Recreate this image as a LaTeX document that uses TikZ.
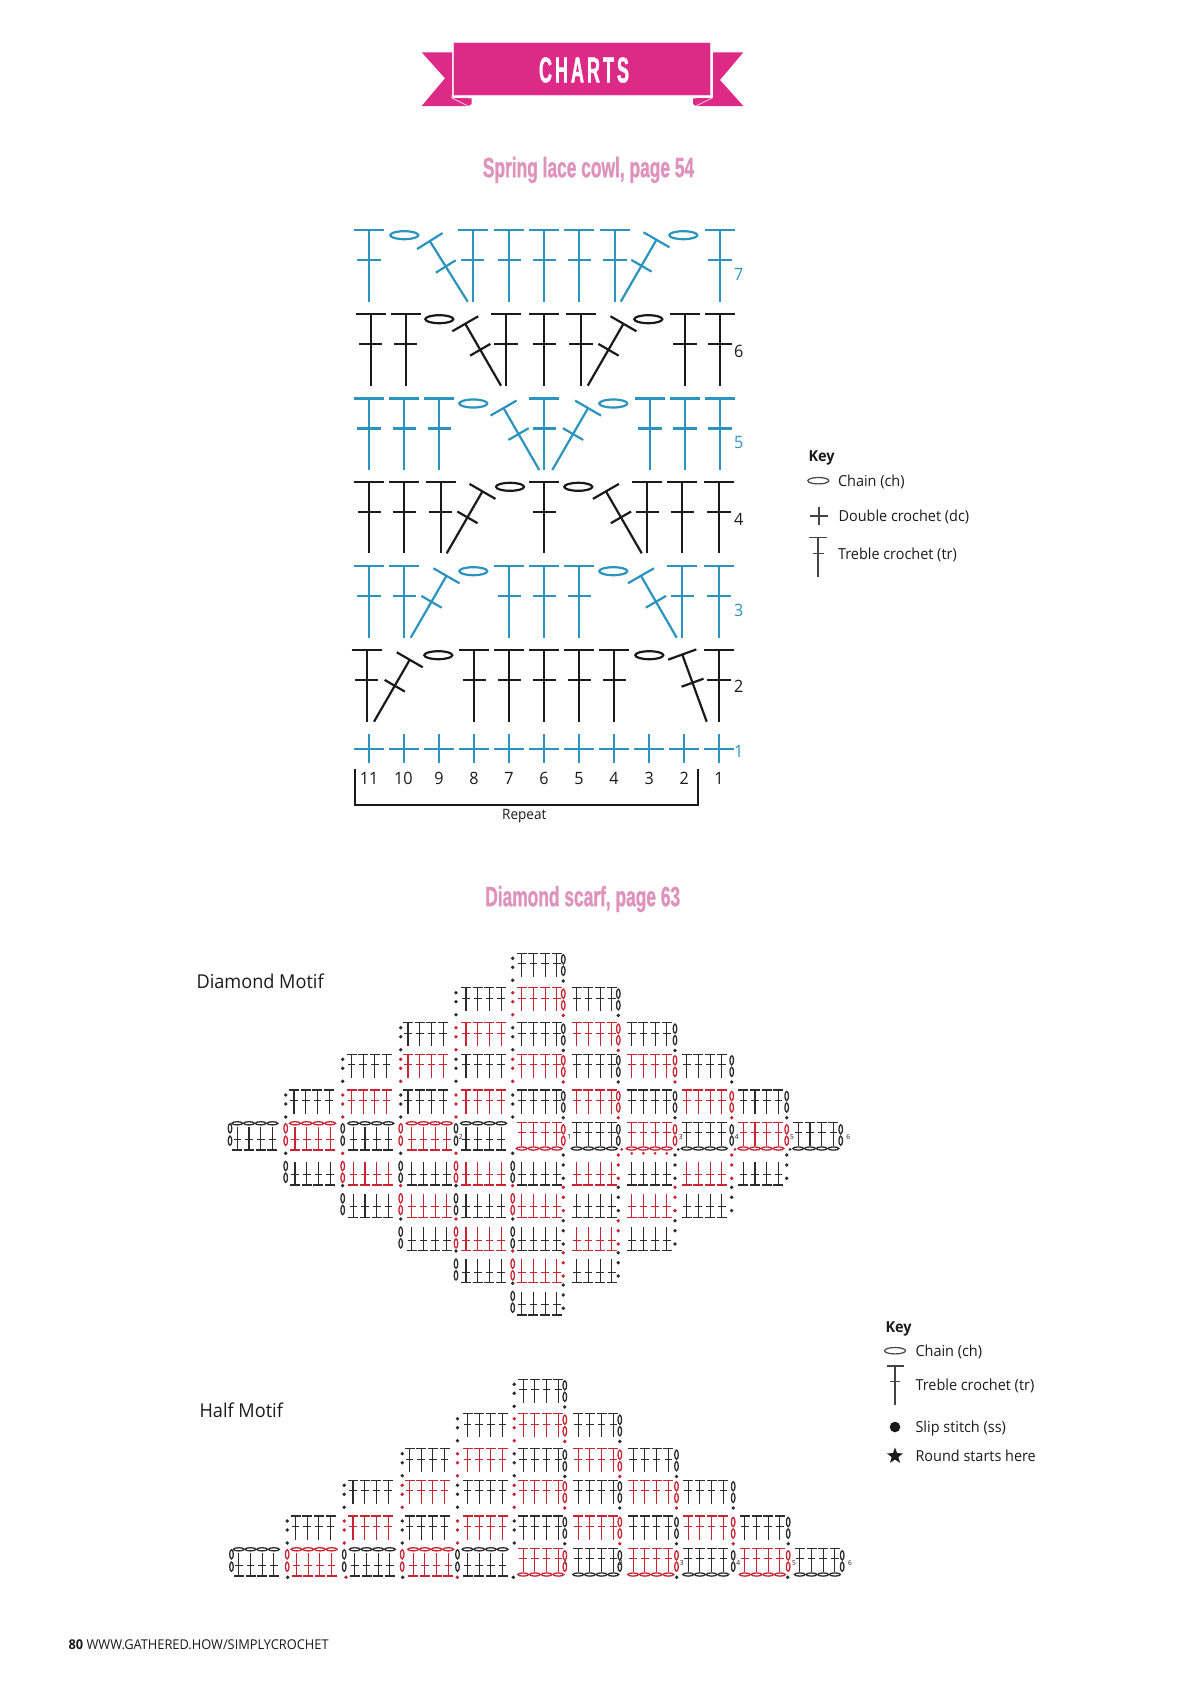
\documentclass[tikz,border=0pt]{standalone}
\usepackage{fontspec}
\usetikzlibrary{shapes.geometric}
\setmainfont[FakeStretch=0.95]{Open Sans}
\newfontfamily\headfont[FakeStretch=0.62,FakeBold=1]{Liberation Sans}
\newfontfamily\bannerfont[FakeStretch=0.5,FakeBold=1]{Liberation Sans}
\definecolor{cpink}{HTML}{DE2A87}
\definecolor{cpale}{HTML}{F8CDE2}
\definecolor{chead}{HTML}{DF93BC}
\definecolor{cblue}{HTML}{2A94BF}
\definecolor{cblack}{HTML}{1A1A1A}
\definecolor{cdark}{HTML}{2C2C2C}
\definecolor{cred}{HTML}{C82434}
\definecolor{cgrey}{HTML}{444444}
\tikzset{
  chartline/.style={line width=2.2pt},
  miniline/.style={line width=1.1pt},
  headlabel/.style={font=\fontsize{28}{32}\headfont\bfseries, text=chead},
  numlabel/.style={font=\fontsize{17}{20}\selectfont},
  keylabel/.style={font=\fontsize{15.2}{18}\selectfont, anchor=west, text=cblack},
  motiflabel/.style={font=\fontsize{19.1}{24}\selectfont, anchor=west, text=cblack},
  roundlabel/.style={font=\fontsize{7}{8}\selectfont, text=cblack},
  pics/trmark/.style={code={
    \draw (0,0) -- (0,-71.5);
    \draw (-15,-71.5) -- (15,-71.5);
    \draw (-11.7,-41.5) -- (11.7,-41.5);
  }},
}
% first stitch of every block, and the side columns of dots and ovals
\def\firstx{{237.3,295,353.3,411.7,466,521.7,576.7,631.7,686.7,743.3,798.3}}
\def\upperx{{237.3,294,351.5,408,466,521.7,576.7,631.7,686.7,743.3,798.3}}
\def\leftx{{230,285.7,342.7,400.7,456,512.7,0,0,0,0,0}}
\def\rightx{{0,0,0,0,0,563.3,618.3,675,731.7,786.7,840.7}}
\newcommand{\minitr}[3]{\draw[miniline,cur] (#1-5,#2) -- (#1+5,#2) (#1,#2) -- (#1,#2+#3*23.5) (#1-3.8,#2+#3*10.5) -- (#1+3.8,#2+#3*10.5);}
\newcommand{\minidot}[2]{\fill[cur] (#1,#2) circle [radius=1.9];}
\newcommand{\minioval}[2]{\draw[line width=1.3pt,cur] (#1,#2) ellipse [x radius=1.8, y radius=4.6];}
\newcommand{\minichain}[2]{\draw[line width=1.3pt,cur] (#1,#2) ellipse [x radius=5.4, y radius=1.6];}
\newcommand{\setcur}[1]{\pgfmathtruncatemacro\colsum{#1}\ifodd\colsum\colorlet{cur}{cred}\else\colorlet{cur}{cdark}\fi}
\newcommand{\motifupper}{
  \foreach \k/\rowy in {1/1090,2/1054.3,3/1022.7,4/987.7,5/953.3}{
    \pgfmathtruncatemacro\lastb{10-\k}
    \foreach \blk in {\k,...,\lastb}{
      \setcur{\blk+\k}
      \pgfmathsetmacro\bx{\upperx[\blk]}
      \pgfmathsetmacro\lx{\leftx[\blk]}
      \pgfmathsetmacro\rx{\rightx[\blk]}
      \foreach \st in {0,1,2,3}{\minitr{\bx+\st*11.7}{\rowy}{1}}
      \ifnum\blk<6
        \minidot{\lx}{\rowy+5}\minidot{\lx}{\rowy+14}\minidot{\lx}{\rowy+27}
      \fi
      \ifnum\blk>4
        \minioval{\rx}{\rowy+6}\minioval{\rx}{\rowy+17.5}\minidot{\rx}{\rowy+27.7}
      \fi
    }
  }
}
\newcommand{\motifmiddle}{
  \foreach \blk in {0,...,10}{
    \setcur{\blk}
    \pgfmathsetmacro\bx{\firstx[\blk]}
    \pgfmathsetmacro\lx{\leftx[\blk]}
    \pgfmathsetmacro\rx{\rightx[\blk]}
    \ifnum\blk<5
      \foreach \st in {0,1,2,3}{\minitr{\bx+\st*11.7}{1150}{-1}\minichain{\bx+\st*11.7}{1123.3}}
      \minioval{\lx}{1128.3}\minioval{\lx}{1140.7}
    \else
      \foreach \st in {0,1,2,3}{\minitr{\bx+\st*11.7}{1122.3}{1}\minichain{\bx+\st*11.7}{1148.5}}
      \minioval{\rx}{1129.3}\minioval{\rx}{1140.7}
    \fi
  }
}
\newcommand{\motiflower}{
  \foreach \k/\rowy in {1/1185,2/1217.3,3/1250.7,4/1282.7,5/1315}{
    \pgfmathtruncatemacro\lastb{10-\k}
    \foreach \blk in {\k,...,\lastb}{
      \setcur{\blk+\k}
      \pgfmathsetmacro\bx{\firstx[\blk]}
      \pgfmathsetmacro\lx{\leftx[\blk]}
      \pgfmathsetmacro\rx{\rightx[\blk]}
      \foreach \st in {0,1,2,3}{\minitr{\bx+\st*11.7}{\rowy}{-1}}
      \ifnum\blk<6
        \minidot{\lx}{\rowy-31.7}\minioval{\lx}{\rowy-19}\minioval{\lx}{\rowy-7.3}
      \fi
      \ifnum\blk>4
        \minidot{\rx}{\rowy-30}\minidot{\rx}{\rowy-20}\minidot{\rx}{\rowy-6.7}
      \fi
    }
  }
}
\begin{document}
\begin{tikzpicture}[x=1pt,y=-1pt]
\useasboundingbox (0,0) rectangle (1200,1697);
%banner
\fill[cpink] (421.7,52.3) -- (452,52.3) -- (452,106) -- (421.7,106) -- (445,78.3) -- cycle;
\fill[cpink] (743.3,52.3) -- (713,52.3) -- (713,106) -- (743.3,106) -- (720,80) -- cycle;
\fill[cpink] (452,98) -- (471.7,98.3) -- (471.7,104) -- (468,106) -- (452,106) -- cycle;
\fill[cpink] (713,98) -- (693,98.3) -- (693,104) -- (696,106) -- (713,106) -- cycle;
\draw[cpale,line width=.8pt] (452,95) -- (452,98) -- (468,106);
\draw[cpale,line width=.8pt] (712,95) -- (712,98) -- (696,106);
\draw[cpale,line width=.8pt,fill=cpink] (453.3,42.7) rectangle (710,95.7);
\node[font=\fontsize{36}{40}\bannerfont\bfseries, text=white] (charts) at (584,70) {C\kern3pt H\kern3pt A\kern3pt R\kern3pt T\kern3pt S};
\node[headlabel] (cowl) at (588.5,170) {Spring lace cowl, page 54};
\node[headlabel] (scarf) at (582.7,899) {Diamond scarf, page 63};
%lace chart
\foreach \rowy/\rowcol/\trx/\chx/\lean in {
  301.7/cblue/{369,472.7,509.3,544.3,579.3,615,720}/{404.3,683.3}/{467.7/32,620.7/-30},
  385.7/cblack/{370.7,405.7,506,544.3,581,685,720}/{439.3,648.3}/{501/30,587.7/-30},
  470/cblue/{369,404.3,439.3,544.3,650,685,720}/{473.3,613.3}/{539.3/30,552.3/-30},
  553.3/cblack/{369.3,404.3,440.7,544.3,647.3,682.3,719}/{510,578.3}/{446.7/-30,641.7/30},
  637.7/cblue/{369,404.3,509.3,544.3,579.3,682.3,719}/{473.3,613.3}/{410.7/-30,676.7/30},
  721.7/cblack/{366.7,474.3,509.3,544.3,579.3,614.3,719}/{438.3,649.3}/{374/-30,706.7/20}}{
  \begin{scope}[chartline,\rowcol]
  \foreach \x in \trx {\pic at (\x,\rowy) {trmark};}
  \foreach \x in \chx {\draw (\x,\rowy-66.5) ellipse [x radius=14, y radius=4];}
  \foreach \x/\tilt in \lean {\pic[rotate=\tilt] at (\x,\rowy) {trmark};}
  \end{scope}
}
\foreach \x in {369,404,439,474,509,544,579,614,649,684,719}
  \draw[chartline,cblue] (\x-15,749.3) -- (\x+15,749.3) (\x,734) -- (\x,763.3);
\foreach \x/\n in {369/11,403.3/10,439/9,474/8,509/7,544/6,579/5,614/4,649.3/3,684.3/2,719/1}
  \node[numlabel,text=cblack] (st\n) at (\x,778.3) {\n};
\foreach \y/\n/\rowcol in {274/7/cblue,351.7/6/cblack,442.7/5/cblue,519/4/cblack,610/3/cblue,686.7/2/cblack,751/1/cblue}
  \node[numlabel,text=\rowcol] (row\n) at (738.7,\y) {\n};
\draw[line width=2pt,cblack] (355,769.3) |- (698.3,805) -- (698.3,769.3);
\node[font=\fontsize{14.3}{16}\selectfont,text=cblack] (repeat) at (524.3,816) {Repeat};
%first key
\node[keylabel] (keya) at (805,458) {\textbf{Key}};
\draw[cgrey,line width=1.2pt] (818.3,480.7) ellipse [x radius=10.5, y radius=3.2];
\node[keylabel] (chaina) at (834.5,482) {Chain (ch)};
\draw[cgrey,line width=1.2pt] (809.5,516) -- (828,516) (819,507) -- (819,525);
\node[keylabel] (dca) at (835,517) {Double crochet (dc)};
\draw[cgrey,line width=1.2pt] (809,537.3) -- (826.7,537.3) (818,537.3) -- (818,576.7) (812.5,553.3) -- (823.5,553.3);
\node[keylabel] (tra) at (834.5,555) {Treble crochet (tr)};
%diamond motif
\motifupper
\motifmiddle
\motiflower
\foreach \x in {631.7,643.4,655.1,666.8} \fill[cred] (\x,1153.3) circle [radius=1.5];
\foreach \x/\rowcol in {621.7/cred,678.3/cdark,735/cred,790/cdark} \fill[\rowcol] (\x,1149.3) circle [radius=1.5];
\foreach \x/\n in {569.3/1,460.7/2,680.7/3,736.7/4,792/5,848.3/6}
  \node[roundlabel] (dm\n) at (\x,1137.3) {\n};
\node[motiflabel] (diamond) at (193,981.5) {Diamond Motif};
%half motif
\begin{scope}[shift={(1.5,426)}]
\motifupper
\motifmiddle
\end{scope}
\foreach \x/\rowcol in {287.7/cdark,346/cred,402.7/cdark,457.3/cred,513.3/cdark,676.7/cdark,787.7/cdark}
  \fill[\rowcol] (\x,1577.3) circle [radius=1.9];
\foreach \x/\n in {565.7/1,620.7/2,681.7/3,738.3/4,794/5,850/6}
  \node[roundlabel] (hm\n) at (\x,1563) {\n};
\node[motiflabel] (half) at (196,1410.5) {Half Motif};
%second key
\node[keylabel] (keyb) at (882,1328.5) {\textbf{Key}};
\draw[cgrey,line width=1.2pt] (895,1350.7) ellipse [x radius=10.5, y radius=3.2];
\node[keylabel] (chainb) at (912,1352) {Chain (ch)};
\draw[cgrey,line width=1.2pt] (886.7,1366) -- (904,1366) (895,1366) -- (895,1405) (890,1381.7) -- (900,1381.7);
\node[keylabel] (trb) at (912,1386) {Treble crochet (tr)};
\fill[cblack] (895,1427) circle [radius=5.3];
\node[keylabel] (ssb) at (912,1429) {Slip stitch (ss)};
\node[star,star points=5,star point ratio=2.4,fill=cblack,inner sep=0pt,minimum size=17pt] (starb) at (895,1456) {};
\node[keylabel] (roundb) at (912,1456) {Round starts here};
%footer
\node[font=\fontsize{13.5}{16}\selectfont,anchor=west,text=cblack] (footer) at (65,1645) {\textbf{80} WWW.GATHERED.HOW/SIMPLYCROCHET};
\end{tikzpicture}
\end{document}
